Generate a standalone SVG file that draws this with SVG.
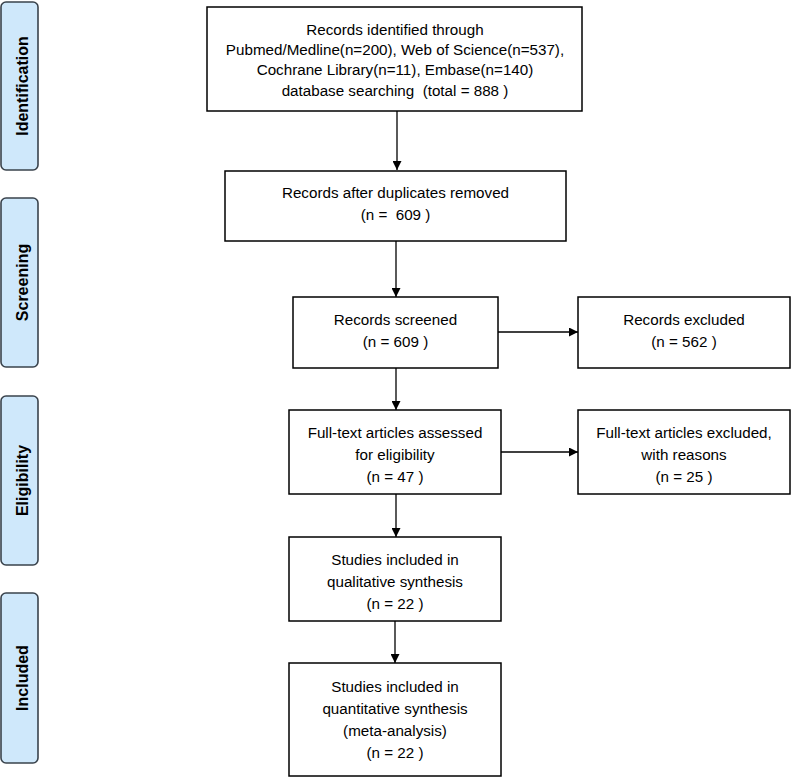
<svg xmlns="http://www.w3.org/2000/svg" width="791" height="778" viewBox="0 0 791 778">
<defs>
<style>
.box{fill:#ffffff;stroke:#000000;stroke-width:1.5}
.side{fill:#cfe8fb;stroke:#3a434c;stroke-width:1.6}
.t{font-family:"Liberation Sans",Arial,sans-serif;font-size:15.2px;fill:#000;text-anchor:middle}
.s{font-family:"Liberation Sans",Arial,sans-serif;font-size:16px;font-weight:bold;fill:#000;text-anchor:middle}
.c{stroke:#000;stroke-width:1.3;fill:none;marker-end:url(#ah)}
</style>
<marker id="ah" viewBox="0 0 10 10" refX="10" refY="5" markerWidth="10" markerHeight="9" markerUnits="userSpaceOnUse" orient="auto">
<path d="M0,0 L10,5 L0,10 Z" fill="#000"/>
</marker>
</defs>
<rect width="791" height="778" fill="#ffffff"/>
<g id="side-identification"><rect class="side" x="1" y="2" width="37" height="168" rx="5"/><text class="s" transform="translate(28,86) rotate(-90)">Identification</text></g>
<g id="side-screening"><rect class="side" x="1" y="198" width="37" height="169" rx="5"/><text class="s" transform="translate(28,282.5) rotate(-90)">Screening</text></g>
<g id="side-eligibility"><rect class="side" x="1" y="396" width="37" height="169" rx="5"/><text class="s" transform="translate(28,480.5) rotate(-90)">Eligibility</text></g>
<g id="side-included"><rect class="side" x="1" y="593" width="37" height="170" rx="5"/><text class="s" transform="translate(28,678) rotate(-90)">Included</text></g>

<g id="connectors">
<line class="c" x1="397" y1="111" x2="397" y2="170"/>
<line class="c" x1="396" y1="241" x2="396" y2="297"/>
<line class="c" x1="396" y1="368" x2="396" y2="410"/>
<line class="c" x1="498" y1="332" x2="578" y2="332"/>
<line class="c" x1="501" y1="452" x2="578" y2="452"/>
<line class="c" x1="396" y1="494" x2="396" y2="537"/>
<line class="c" x1="395" y1="621" x2="395" y2="663"/>
</g>

<g id="identified"><rect class="box" x="207" y="7" width="375" height="104"/>
<text class="t" x="395" y="35">Records identified through</text>
<text class="t" x="395" y="55">Pubmed/Medline(n=200), Web of Science(n=537),</text>
<text class="t" x="395" y="75">Cochrane Library(n=11), Embase(n=140)</text>
<text class="t" x="395" y="96" xml:space="preserve">database searching  (total = 888 )</text></g>

<g id="duplicates"><rect class="box" x="225" y="171" width="341" height="70"/>
<text class="t" x="395.5" y="198">Records after duplicates removed</text>
<text class="t" x="395.5" y="220" xml:space="preserve">(n =  609 )</text></g>

<g id="screened"><rect class="box" x="293" y="297" width="205" height="71"/>
<text class="t" x="395.5" y="325">Records screened</text>
<text class="t" x="395.5" y="347">(n = 609 )</text></g>

<g id="excluded"><rect class="box" x="578" y="297" width="212" height="71"/>
<text class="t" x="684" y="325">Records excluded</text>
<text class="t" x="684" y="347">(n = 562 )</text></g>

<g id="fulltext"><rect class="box" x="289" y="410" width="212" height="84"/>
<text class="t" x="395" y="438">Full-text articles assessed</text>
<text class="t" x="395" y="460">for eligibility</text>
<text class="t" x="395" y="482">(n = 47 )</text></g>

<g id="fulltext-excluded"><rect class="box" x="578" y="410" width="212" height="84"/>
<text class="t" x="684" y="438">Full-text articles excluded,</text>
<text class="t" x="684" y="460">with reasons</text>
<text class="t" x="684" y="482">(n = 25 )</text></g>

<g id="qualitative"><rect class="box" x="289" y="537" width="212" height="84"/>
<text class="t" x="395" y="565">Studies included in</text>
<text class="t" x="395" y="587">qualitative synthesis</text>
<text class="t" x="395" y="609">(n = 22 )</text></g>

<g id="quantitative"><rect class="box" x="289" y="663" width="212" height="113"/>
<text class="t" x="395" y="692">Studies included in</text>
<text class="t" x="395" y="714">quantitative synthesis</text>
<text class="t" x="395" y="736">(meta-analysis)</text>
<text class="t" x="395" y="758">(n = 22 )</text></g>
</svg>
